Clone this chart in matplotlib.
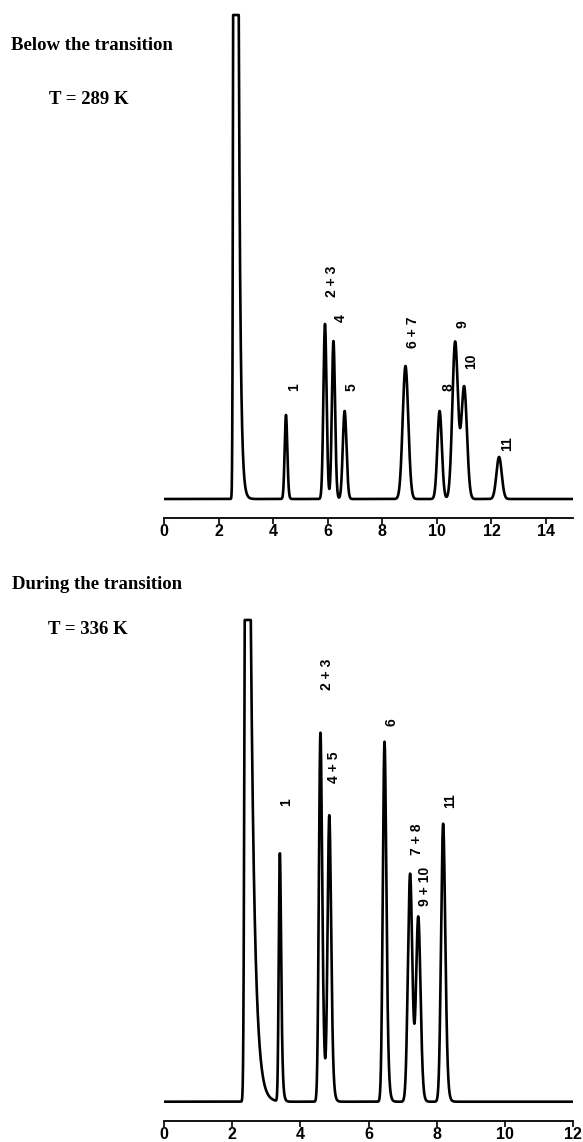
import numpy as np
import matplotlib
matplotlib.use("Agg")
import matplotlib.pyplot as plt

# ---------------- data ----------------
# Panel A: below the transition, T = 289 K (retention time, min)
a_peak_labels = ["1", "2 + 3", "4", "5", "6 + 7", "8", "9", "10", "11"]
a_centers = [4.47, 5.90, 6.21, 6.62, 8.85, 10.10, 10.67, 11.00, 12.28]
a_heights = [84, 175, 158, 88, 133, 88, 157, 112, 42]
a_sigmas = [0.045, 0.055, 0.055, 0.065, 0.10, 0.08, 0.10, 0.10, 0.095]
a_taus = [0.02, 0.02, 0.02, 0.02, 0.02, 0.02, 0.02, 0.02, 0.02]
a_solvent = dict(center=2.60, height=3000, sigma=0.03, tau=0.065)
a_clip = 484
a_xmax = 15
a_ticks = [0, 2, 4, 6, 8, 10, 12, 14]

# Panel B: during the transition, T = 336 K
b_peak_labels = ["1", "2 + 3", "4 + 5", "6", "7 + 8", "9 + 10", "11"]
b_centers = [3.40, 4.59, 4.85, 6.47, 7.22, 7.46, 8.19]
b_heights = [248, 369, 285, 360, 228, 184, 278]
b_sigmas = [0.028, 0.04, 0.045, 0.045, 0.06, 0.06, 0.055]
b_taus = [0.03, 0.04, 0.035, 0.035, 0.03, 0.03, 0.035]
b_solvent = dict(center=2.42, height=1200, sigma=0.03, tau=0.12)
b_clip = 481.7
b_xmax = 12
b_ticks = [0, 2, 4, 6, 8, 10, 12]

# ---------------- helpers ----------------
def peak_shape(x, center, height, sigma, tau):
    du = 0.001
    u = np.arange(-2.0, 4.0, du)
    g = np.exp(-0.5 * (u / sigma) ** 2)
    if tau > 0:
        k = np.exp(-np.arange(0, 12 * tau, du) / tau)
        s = np.convolve(g, k)[:len(u)]
    else:
        s = g
    s = s / s.max()
    umax = u[np.argmax(s)]
    return height * np.interp(x - center + umax, u, s, left=0, right=0)


def trace(xmax, solvent, centers, heights, sigmas, taus, clip):
    x = np.linspace(0, xmax, int(xmax * 800) + 1)
    y = peak_shape(x, **solvent)
    for c, h, s, t in zip(centers, heights, sigmas, taus):
        y = y + peak_shape(x, c, h, s, t)
    return x, np.minimum(y, clip)


W, H = 583, 1142
fig = plt.figure(figsize=(W / 100, H / 100), dpi=100)

serif = ["Liberation Serif", "DejaVu Serif"]
sans = ["Liberation Sans", "DejaVu Sans"]


def make_axes(px_left, px_right, px_top, px_bottom):
    return fig.add_axes([px_left / W, 1 - px_bottom / H,
                         (px_right - px_left) / W, (px_bottom - px_top) / H])


def style(ax, xmax, ticks, ylo, yhi):
    ax.set_xlim(0, xmax)
    ax.set_ylim(ylo, yhi)
    for sp in ["top", "right", "left"]:
        ax.spines[sp].set_visible(False)
    ax.spines["bottom"].set_linewidth(1.3)
    ax.set_yticks([])
    ax.set_xticks(ticks)
    ax.set_xticklabels([str(t) for t in ticks])
    ax.tick_params(axis="x", direction="out", length=4, width=1.2, pad=0.5)
    for lab in ax.get_xticklabels():
        lab.set_family(sans)
        lab.set_fontsize(11.5)
        lab.set_fontweight("bold")
    ax.patch.set_alpha(0)


# ---- panel A ----
axA = make_axes(164, 573.3, 13, 518)
xA, yA = trace(a_xmax, a_solvent, a_centers, a_heights, a_sigmas, a_taus, a_clip)
axA.plot(xA, yA, color="black", lw=1.9, solid_joinstyle="round")
style(axA, a_xmax, a_ticks, -19, a_clip + 2)
a_label_pos = [(4.76, 112), (6.15, 218), (6.48, 181), (6.89, 112), (9.11, 167),
               (10.44, 112), (10.94, 175), (11.27, 138), (12.58, 55)]
for lab, (lx, ly) in zip(a_peak_labels, a_label_pos):
    axA.text(lx, ly, lab, rotation=90, ha="center", va="center",
             fontsize=10, fontweight="bold", family=sans)

# ---- panel B ----
axB = make_axes(164, 573, 618, 1121)
xB, yB = trace(b_xmax, b_solvent, b_centers, b_heights, b_sigmas, b_taus, b_clip)
axB.plot(xB, yB, color="black", lw=1.9, solid_joinstyle="round")
style(axB, b_xmax, b_ticks, -19.3, b_clip + 2)
b_label_pos = [(3.57, 300), (4.77, 427), (4.99, 334), (6.68, 380),
               (7.43, 262), (7.67, 215), (8.39, 301)]
for lab, (lx, ly) in zip(b_peak_labels, b_label_pos):
    axB.text(lx, ly, lab, rotation=90, ha="center", va="center",
             fontsize=10, fontweight="bold", family=sans)

# ---- titles ----
def ftext(px, py, s):
    fig.text(px / W, 1 - py / H, s, ha="left", va="baseline",
             fontsize=13.5, fontweight="bold", family=serif)

ftext(10.7, 50, "Below the transition")
ftext(49, 104, "T = 289 K")
ftext(11.7, 589, "During the transition")
ftext(47.7, 634, "T = 336 K")

fig.savefig("out.png", dpi=100)
